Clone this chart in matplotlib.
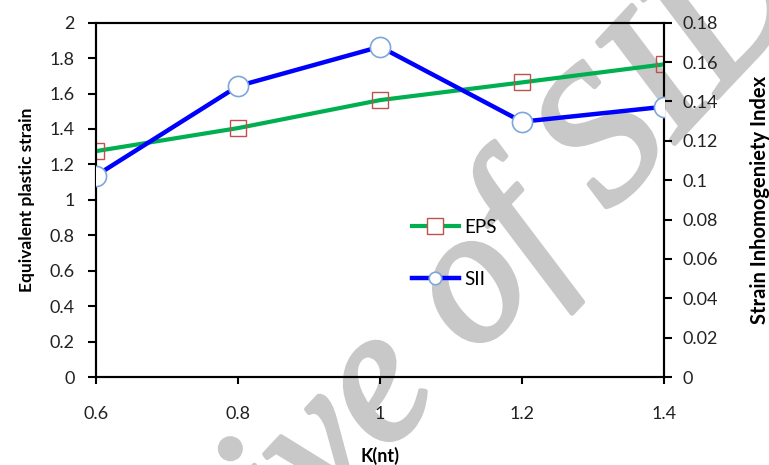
import numpy as np
import matplotlib
matplotlib.use('Agg')
import matplotlib.pyplot as plt
import matplotlib.patheffects as pe
from matplotlib.lines import Line2D
from matplotlib.ticker import FuncFormatter, MultipleLocator

#------------------------------------------------------------------------
# D A T A
#------------------------------------------------------------------------

k_nt = [0.6, 0.8, 1.0, 1.2, 1.4]
eps  = [1.275, 1.405, 1.563, 1.663, 1.765]     # equivalent plastic strain
sii  = [0.1023, 0.1478, 0.1678, 0.1297, 0.1373]  # strain inhomogeneity index

plt.rcParams['font.family'] = ['Lato', 'DejaVu Sans']

def fmt(v, pos):
    return '%g' % round(v, 4)

#------------------------------------------------------------------------
# P L O T
#------------------------------------------------------------------------

fig = plt.figure(figsize=(7.69, 4.65), dpi=100, facecolor='white')
ax1 = fig.add_axes([0.1248, 0.1892, 0.7387, 0.762])
ax1.patch.set_visible(False)
ax2 = ax1.twinx()

ax1.plot(k_nt, eps, color='#00B050', lw=3.0, marker='s', ms=12,
         mfc='none', mec='#C0504D', mew=1.0, zorder=3)
ax2.plot(k_nt, sii, color='#0000FF', lw=3.2, marker='o', ms=14.5,
         mfc='white', mec='#7DA7D9', mew=1.2, zorder=3)

ax1.set_xlim(0.6, 1.4)
ax1.set_ylim(0, 2)
ax2.set_ylim(0, 0.18)
ax1.xaxis.set_major_locator(MultipleLocator(0.2))
ax1.yaxis.set_major_locator(MultipleLocator(0.2))
ax2.yaxis.set_major_locator(MultipleLocator(0.02))
for a in (ax1.xaxis, ax1.yaxis, ax2.yaxis):
    a.set_major_formatter(FuncFormatter(fmt))

for a in (ax1, ax2):
    for s in a.spines.values():
        s.set_linewidth(1.5)
        s.set_color('black')
ax1.tick_params(axis='x', direction='out', length=5, width=1.5, pad=16,
                labelsize=13, labelcolor='#222222')
ax1.tick_params(axis='y', direction='out', length=5.5, width=1.5, pad=10,
                labelsize=13, labelcolor='#222222')
ax2.tick_params(axis='y', direction='out', length=5.5, width=1.5, pad=8,
                labelsize=13, labelcolor='#222222')

ax1.set_ylabel('Equivalent plastic strain', fontsize=12.5, fontweight='bold')
ax2.set_ylabel('Strain Inhomogeniety Index', fontsize=14.5, fontweight='bold')
ax1.set_xlabel('K(nt)', fontsize=13, fontweight='bold')
ax1.yaxis.set_label_coords(-0.107, 0.5)
ax2.yaxis.set_label_coords(1.151, 0.5)
ax1.xaxis.set_label_coords(0.5, -0.198)

# legend for both axes
handles = [Line2D([], [], color='#00B050', lw=3.0, marker='s', ms=11,
                  mfc='white', mec='#C0504D', mew=1.0),
           Line2D([], [], color='#0000FF', lw=3.2, marker='o', ms=9,
                  mfc='white', mec='#7DA7D9', mew=1.2)]
ax2.legend(handles, ['EPS', 'SII'], loc='center left',
           bbox_to_anchor=(0.556, 0.349), frameon=False, fontsize=13.5,
           handlelength=2.5, handletextpad=0.3, labelspacing=1.85,
           borderpad=0, borderaxespad=0)

# watermark behind the chart
wm_color = '#c8c8c8'
fig.text(427 / 769, 1 - 409 / 465, 'Archive of SID', fontsize=138,
         family='Liberation Serif', style='italic',
         color=wm_color, rotation=47, zorder=-1,
         ha='center', va='baseline', rotation_mode='anchor',
         path_effects=[pe.withStroke(linewidth=3.5, foreground=wm_color)])

plt.savefig('out.png', dpi=100, facecolor='white')
